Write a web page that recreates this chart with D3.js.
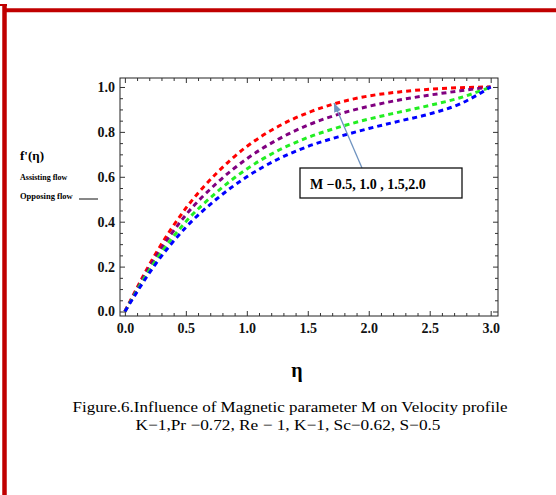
<!DOCTYPE html>
<html>
<head>
<meta charset="utf-8">
<script src="https://cdn.jsdelivr.net/npm/d3@7"></script>
<style>
  body { margin: 0; background: #fff; }
  svg { display: block; }
  .tick text { font-family: "Liberation Serif", "Times New Roman", serif; font-weight: bold; font-size: 14px; fill: #111; }
  .tick line { stroke: #333; }
  .domain { stroke: none; }
</style>
</head>
<body>
<svg width="556" height="495"></svg>
<script>
// eta values (x) and f'(eta) for M = 0.5, 1.0, 1.5, 2.0
var eta  = [0, 0.25, 0.5, 0.75, 1.0, 1.25, 1.5, 1.75, 2.0, 2.25, 2.5, 2.75, 3.0];
var fM05 = [0, 0.255, 0.46, 0.615, 0.735, 0.822, 0.885, 0.93, 0.96, 0.978, 0.99, 0.997, 1.0];
var fM10 = [0, 0.24, 0.43, 0.57, 0.68, 0.765, 0.83, 0.878, 0.914, 0.942, 0.964, 0.983, 1.0];
var fM15 = [0, 0.225, 0.4, 0.53, 0.635, 0.715, 0.775, 0.82, 0.857, 0.888, 0.918, 0.952, 1.0];
var fM20 = [0, 0.21, 0.375, 0.5, 0.6, 0.677, 0.735, 0.778, 0.815, 0.848, 0.88, 0.925, 1.0];
var seriesColors = ["#ff0000", "#800080", "#22ee22", "#0000ff"];
var xTicks = [0, 0.5, 1.0, 1.5, 2.0, 2.5, 3.0];
var yTicks = [0, 0.2, 0.4, 0.6, 0.8, 1.0];

var svg = d3.select("svg");
var serif = '"Liberation Serif", "Times New Roman", serif';

var x = d3.scaleLinear().domain([-0.04, 3.06]).range([120, 498]);
var y = d3.scaleLinear().domain([-0.02, 1.04]).range([316, 78]);

// red page border
svg.append("line").attr("x1", 4.5).attr("y1", 4).attr("x2", 4.5).attr("y2", 495)
  .attr("stroke", "#c00000").attr("stroke-width", 4.5);
svg.append("line").attr("x1", 0).attr("y1", 5).attr("x2", 7).attr("y2", 5)
  .attr("stroke", "#c00000").attr("stroke-width", 2);
svg.append("line").attr("x1", 4).attr("y1", 10.2).attr("x2", 556).attr("y2", 10.2)
  .attr("stroke", "#c00000").attr("stroke-width", 4);

// frame
svg.append("rect").attr("x", 120).attr("y", 78).attr("width", 378).attr("height", 238)
  .attr("fill", "none").attr("stroke", "#222").attr("stroke-width", 1);

var xMinor = d3.range(0, 3.01, 0.1).filter(function(v) { return Math.abs(v * 2 - Math.round(v * 2)) > 1e-6; });
var yMinor = d3.range(0, 1.01, 0.05).filter(function(v) { return Math.abs(v * 5 - Math.round(v * 5)) > 1e-6; });

svg.append("g").attr("transform", "translate(0,316)")
  .call(d3.axisBottom(x).tickValues(xTicks).tickSize(-5).tickPadding(7).tickFormat(d3.format(".1f")));
svg.append("g").attr("transform", "translate(0,316)")
  .call(d3.axisBottom(x).tickValues(xMinor).tickSize(-3).tickFormat(""));
svg.append("g").attr("transform", "translate(0,78)")
  .call(d3.axisTop(x).tickValues(xTicks).tickSize(-5).tickFormat(""));
svg.append("g").attr("transform", "translate(0,78)")
  .call(d3.axisTop(x).tickValues(xMinor).tickSize(-3).tickFormat(""));

svg.append("g").attr("transform", "translate(120,0)")
  .call(d3.axisLeft(y).tickValues(yTicks).tickSize(-5).tickPadding(5).tickFormat(d3.format(".1f")));
svg.append("g").attr("transform", "translate(120,0)")
  .call(d3.axisLeft(y).tickValues(yMinor).tickSize(-3).tickFormat(""));
svg.append("g").attr("transform", "translate(498,0)")
  .call(d3.axisRight(y).tickValues(yTicks).tickSize(-5).tickFormat(""));
svg.append("g").attr("transform", "translate(498,0)")
  .call(d3.axisRight(y).tickValues(yMinor).tickSize(-3).tickFormat(""));

// curves
var line = d3.line()
  .x(function(d) { return x(d[0]); })
  .y(function(d) { return y(d[1]); })
  .curve(d3.curveMonotoneX);

[fM05, fM10, fM15, fM20].forEach(function(vals, i) {
  svg.append("path")
    .datum(eta.map(function(e, j) { return [e, vals[j]]; }))
    .attr("d", line)
    .attr("fill", "none")
    .attr("stroke", seriesColors[i])
    .attr("stroke-width", 3)
    .attr("stroke-dasharray", "5,4");
});

// annotation box and arrow
svg.append("defs").append("marker")
  .attr("id", "arr").attr("viewBox", "0 -5 10 10")
  .attr("refX", 10).attr("refY", 0)
  .attr("markerWidth", 7).attr("markerHeight", 7)
  .attr("orient", "auto")
  .append("path").attr("d", "M0,-4L10,0L0,4").attr("fill", "#6f93c0");

svg.append("line")
  .attr("x1", 362).attr("y1", 168).attr("x2", 334).attr("y2", 103)
  .attr("stroke", "#6f93c0").attr("stroke-width", 1.3)
  .attr("marker-end", "url(#arr)");

svg.append("rect").attr("x", 300).attr("y", 168).attr("width", 162).attr("height", 30)
  .attr("fill", "#fff").attr("stroke", "#111").attr("stroke-width", 1.3);
svg.append("text").attr("x", 310).attr("y", 189)
  .attr("font-family", serif).attr("font-weight", "bold").attr("font-size", 14)
  .text("M −0.5, 1.0 , 1.5,2.0");

// left labels
svg.append("text").attr("x", 20).attr("y", 160)
  .attr("font-family", serif).attr("font-weight", "bold").attr("font-size", 13)
  .text("f'(η)");
svg.append("text").attr("x", 20).attr("y", 180)
  .attr("font-family", serif).attr("font-weight", "bold").attr("font-size", 8)
  .text("Assisting flow");
svg.append("text").attr("x", 20).attr("y", 199)
  .attr("font-family", serif).attr("font-weight", "bold").attr("font-size", 8.5)
  .text("Opposing flow");
svg.append("line").attr("x1", 79).attr("y1", 199).attr("x2", 98).attr("y2", 199)
  .attr("stroke", "#111").attr("stroke-width", 1);

// x label
svg.append("text").attr("x", 297).attr("y", 377).attr("text-anchor", "middle")
  .attr("font-family", serif).attr("font-weight", "bold").attr("font-size", 20)
  .text("η");

// caption
svg.append("text").attr("x", 290).attr("y", 412).attr("text-anchor", "middle")
  .attr("font-family", serif).attr("font-size", 15)
  .attr("textLength", 435).attr("lengthAdjust", "spacingAndGlyphs")
  .text("Figure.6.Influence of Magnetic parameter M on Velocity profile");
svg.append("text").attr("x", 288).attr("y", 430).attr("text-anchor", "middle")
  .attr("font-family", serif).attr("font-size", 15)
  .attr("textLength", 305).attr("lengthAdjust", "spacingAndGlyphs")
  .text("K−1,Pr −0.72, Re − 1, K−1, Sc−0.62, S−0.5");
</script>
</body>
</html>
